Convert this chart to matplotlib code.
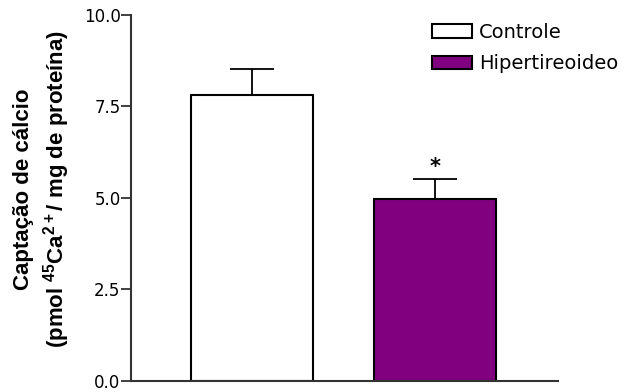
import numpy as np
from matplotlib import pyplot as plt

plt.rcParams['font.family'] = ['DejaVu Sans']
plt.rcParams['mathtext.fontset'] = 'custom'
plt.rcParams['mathtext.rm'] = 'Liberation Sans:bold'
plt.rcParams['mathtext.bf'] = 'Liberation Sans:bold'
plt.rcParams['mathtext.default'] = 'bf'

# Dados
grupos = ["Controle", "Hipertireoideo"]
medias = [7.81, 4.96]
erros = [0.71, 0.55]
cores = ["white", "#800080"]
yticks = [0.0, 2.5, 5.0, 7.5, 10.0]

fig = plt.figure(figsize=(6.26, 3.92), dpi=100)
ax = fig.add_axes([0.2093, 0.028, 0.682, 0.934])

x = np.arange(len(grupos))
for i in range(len(grupos)):
    ax.bar(x[i], medias[i], width=0.666, color=cores[i], edgecolor="black",
           linewidth=1.5, label=grupos[i], zorder=2)
    ax.errorbar(x[i], medias[i], yerr=[[0], [erros[i]]], fmt="none",
                ecolor="black", elinewidth=1.3, capsize=15.5, capthick=1.3, zorder=1)

# asterisco de significância
ax.text(x[1], medias[1] + erros[1] + 0.05, "*", ha="center", va="bottom",
        fontsize=15, fontweight="bold")

ax.set_xlim(-0.661, 1.672)
ax.set_ylim(0, 10)
ax.set_yticks(yticks)
ax.set_yticklabels([f"{v:.1f}" for v in yticks])
ax.set_xticks([])
ax.tick_params(axis="y", direction="out", length=7, width=1.3, labelsize=12, pad=0.5,
               color="#333333")
for s in ["top", "right"]:
    ax.spines[s].set_visible(False)
for s in ["left", "bottom"]:
    ax.spines[s].set_linewidth(1.5)
    ax.spines[s].set_color("#333333")

ax.set_ylabel("Captação de cálcio\n(pmol $^{45}$Ca$^{2+}$/ mg de proteína)",
              fontsize=16, fontweight="bold", family="Liberation Sans",
              linespacing=1.32)
ax.yaxis.set_label_coords(-0.139, 0.525)

ax.legend(loc="upper left", bbox_to_anchor=(0.6626, 0.987), bbox_transform=fig.transFigure,
          frameon=False, fontsize=14, handlelength=2.06, handleheight=0.72,
          handletextpad=0.36, labelspacing=0.65)

fig.savefig("out.png", dpi=100)
